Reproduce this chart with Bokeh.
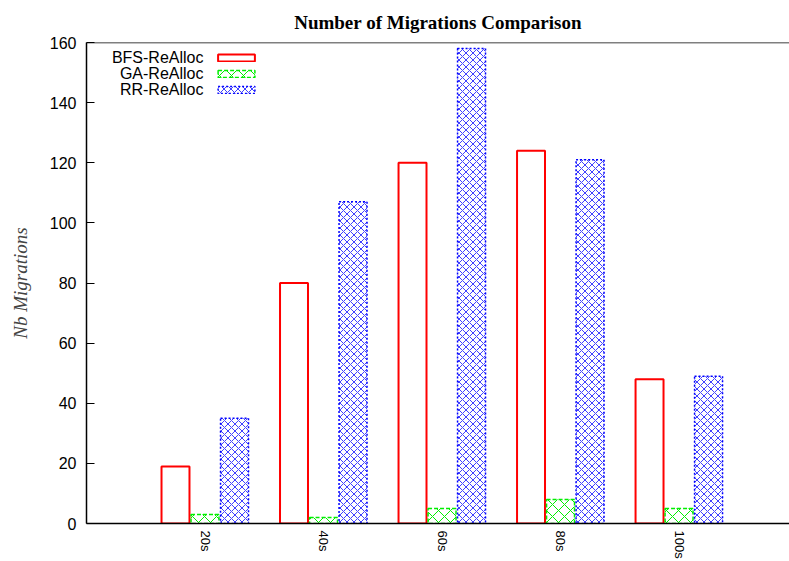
from bokeh.plotting import figure
from bokeh.models import ColumnDataSource, Span, FixedTicker, Legend, LegendItem, Label
from bokeh.embed import file_html
from bokeh.resources import INLINE
import math

chart_title = "Number of Migrations Comparison"
categories = ["20s", "40s", "60s", "80s", "100s"]
bfs_values = [19, 80, 120, 124, 48]
ga_values = [3, 2, 5, 8, 5]
rr_values = [35, 107, 158, 121, 49]
series_names = ["BFS-ReAlloc", "GA-ReAlloc", "RR-ReAlloc"]
y_ticks = [0, 20, 40, 60, 80, 100, 120, 140, 160]

pos = [i + 1 for i in range(len(categories))]
off = 0.249
bw = 0.236

src = ColumnDataSource(dict(
    x_bfs=[p - off for p in pos],
    x_ga=pos,
    x_rr=[p + off for p in pos],
    bfs=bfs_values, ga=ga_values, rr=rr_values,
))

p = figure(width=789, height=561, output_backend="svg", toolbar_location=None,
           x_range=(0, 5.932), y_range=(0, 160),
           min_border_left=86, min_border_right=0, min_border_top=42, min_border_bottom=37,
           title=chart_title)

p.title.align = "center"
p.title.vertical_align = "top"
p.title.text_font = "Liberation Serif"
p.title.text_font_size = "19px"
p.title.text_font_style = "bold"
p.title.text_color = "black"
p.title.offset = 0
p.title.standoff = 16

p.outline_line_color = None
p.grid.visible = False
p.background_fill_color = "white"
p.border_fill_color = "white"

r_bfs = p.vbar(x="x_bfs", top="bfs", width=bw, source=src, fill_color="white",
               line_color="#ff0000", line_width=2)
r_ga = p.vbar(x="x_ga", top="ga", width=bw, source=src, fill_color="white",
              line_color="#00ee00", line_width=1.5, line_dash="4 2",
              hatch_pattern="x", hatch_color="#00ee00", hatch_scale=12, hatch_weight=1)
r_rr = p.vbar(x="x_rr", top="rr", width=bw, source=src, fill_color="white",
              line_color="#0000ff", line_width=1.5, line_dash="2 2",
              hatch_pattern="diagonal_cross", hatch_color="#0000ff", hatch_scale=7,
              hatch_weight=1, hatch_alpha=0.75)

top_line = Span(location=160, dimension="width", line_color="black", line_width=1.5)
p.add_layout(top_line)

# y axis
p.yaxis.ticker = FixedTicker(ticks=y_ticks)
p.yaxis.major_tick_in = 8
p.yaxis.major_tick_out = 0
p.yaxis.minor_tick_line_color = None
p.yaxis.major_label_text_font = "Liberation Sans"
p.yaxis.major_label_text_font_size = "16px"
p.yaxis.major_label_text_color = "black"
p.yaxis.major_label_standoff = 10
p.yaxis.axis_line_width = 1.5
p.yaxis.axis_label = "Nb Migrations"
p.yaxis.axis_label_text_font = "Liberation Serif"
p.yaxis.axis_label_text_font_style = "italic"
p.yaxis.axis_label_text_font_size = "19px"
p.yaxis.axis_label_standoff = 16

# x axis
p.xaxis.ticker = FixedTicker(ticks=pos)
p.xaxis.major_label_overrides = {pp: c for pp, c in zip(pos, categories)}
p.xaxis.major_label_orientation = -math.pi / 2
p.xaxis.major_tick_in = 0
p.xaxis.major_tick_out = 0
p.xaxis.minor_tick_line_color = None
p.xaxis.major_label_text_font = "Liberation Sans"
p.xaxis.major_label_text_font_size = "13px"
p.xaxis.major_label_text_color = "black"
p.xaxis.major_label_standoff = 7
p.xaxis.axis_line_width = 1.5

# legend: samples on the right (glyph-only legend), names right-aligned to their left
legend = Legend(items=[
    LegendItem(label=" ", renderers=[r_bfs]),
    LegendItem(label=" ", renderers=[r_ga]),
    LegendItem(label=" ", renderers=[r_rr]),
], location=(127, 426))
legend.background_fill_alpha = 0
legend.border_line_color = None
legend.label_text_font_size = "8px"
legend.glyph_width = 46
legend.glyph_height = 9
legend.label_height = 16
legend.spacing = 0
legend.margin = 0
legend.padding = 0
legend.label_standoff = 0
p.add_layout(legend)

for i, name in enumerate(series_names):
    p.add_layout(Label(x=117, y=466 - 16 * i, x_units="screen", y_units="screen",
                       text=name, text_align="right", text_baseline="middle",
                       text_font="Liberation Sans", text_font_size="16px",
                       text_color="black"))

open("out.html", "w").write(file_html(p, INLINE))
